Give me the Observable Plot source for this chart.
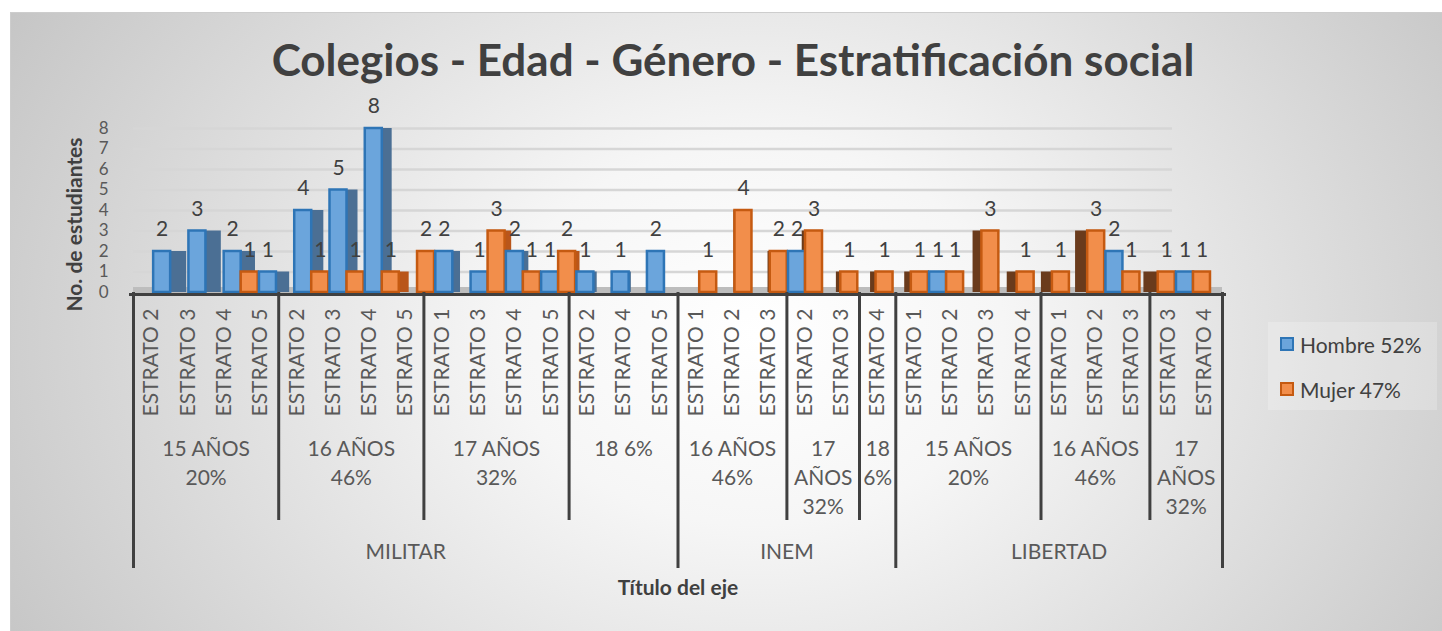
<!DOCTYPE html>
<html>
<head>
<meta charset="utf-8">
<script src="https://cdn.jsdelivr.net/npm/d3@7"></script>
<script src="https://cdn.jsdelivr.net/npm/@observablehq/plot@0.6"></script>
<style>
  body { margin: 0; background: #ffffff; }
  #wrap { position: relative; width: 1442px; height: 631px; overflow: hidden; font-family: Lato, "Open Sans", sans-serif; }
  #bg { position: absolute; left: 10px; top: 12px; right: 0; bottom: 0;
        background: radial-gradient(ellipse 62% 110% at 52% 52%, #ffffff 0%, #f6f6f6 28%, #c3c3c3 100%);
        border-top: 1px solid #cdcdcd; border-left: 1px solid #cdcdcd; }
  #chart { position: absolute; left: 0; top: 0; }
  #title { position: absolute; left: 12px; width: 1442px; top: 37px; text-align: center;
           font-weight: 700; font-size: 44px; line-height: 1; color: #404040; white-space: nowrap; }
  #legend { position: absolute; left: 1268px; top: 322px; width: 169px; height: 88px;
            background: rgba(255,255,255,0.22); box-sizing: border-box; padding-top: 7px; }
  .item { display: flex; align-items: center; height: 30px; margin-bottom: 15px; padding-left: 12px;
          font-size: 21px; color: #404040; }
  .sw { width: 10px; height: 10px; border: 2px solid; margin-right: 6px; }
</style>
</head>
<body>
<div id="wrap">
  <div id="bg"></div>
  <div id="chart"></div>
  <div id="title">Colegios - Edad - Género - Estratificación social</div>
  <div id="legend"></div>
</div>
<script>
// ---------------- data ----------------
const colegio = [
  "MILITAR","MILITAR","MILITAR","MILITAR",
  "MILITAR","MILITAR","MILITAR","MILITAR",
  "MILITAR","MILITAR","MILITAR","MILITAR",
  "MILITAR","MILITAR","MILITAR",
  "INEM","INEM","INEM",
  "INEM","INEM",
  "INEM",
  "LIBERTAD","LIBERTAD","LIBERTAD","LIBERTAD",
  "LIBERTAD","LIBERTAD","LIBERTAD",
  "LIBERTAD","LIBERTAD"
];
const edad = [
  "15 AÑOS 20%","15 AÑOS 20%","15 AÑOS 20%","15 AÑOS 20%",
  "16 AÑOS 46%","16 AÑOS 46%","16 AÑOS 46%","16 AÑOS 46%",
  "17 AÑOS 32%","17 AÑOS 32%","17 AÑOS 32%","17 AÑOS 32%",
  "18 6%","18 6%","18 6%",
  "16 AÑOS 46%","16 AÑOS 46%","16 AÑOS 46%",
  "17 AÑOS 32%","17 AÑOS 32%",
  "18 6%",
  "15 AÑOS 20%","15 AÑOS 20%","15 AÑOS 20%","15 AÑOS 20%",
  "16 AÑOS 46%","16 AÑOS 46%","16 AÑOS 46%",
  "17 AÑOS 32%","17 AÑOS 32%"
];
const estrato = [
  "ESTRATO 2","ESTRATO 3","ESTRATO 4","ESTRATO 5",
  "ESTRATO 2","ESTRATO 3","ESTRATO 4","ESTRATO 5",
  "ESTRATO 1","ESTRATO 3","ESTRATO 4","ESTRATO 5",
  "ESTRATO 2","ESTRATO 4","ESTRATO 5",
  "ESTRATO 1","ESTRATO 2","ESTRATO 3",
  "ESTRATO 2","ESTRATO 3",
  "ESTRATO 4",
  "ESTRATO 1","ESTRATO 2","ESTRATO 3","ESTRATO 4",
  "ESTRATO 1","ESTRATO 2","ESTRATO 3",
  "ESTRATO 3","ESTRATO 4"
];
const hombre = [2,3,2,1, 4,5,8,0, 2,1,2,1, 1,1,2, 0,0,0, 2,0, 0, 0,1,0,0, 0,0,2, 0,1];
const mujer  = [0,0,1,0, 1,1,1,2, 0,3,1,2, 0,0,0, 1,4,2, 3,1, 1, 1,1,3,1, 1,3,1, 1,1];
const series = ["Hombre 52%", "Mujer 47%"];
const yTicks = [0,1,2,3,4,5,6,7,8];

// ---------------- styling ----------------
const frontFill   = ["#6ba5dc", "#f28e4b"];
const frontStroke = ["#2e75b6", "#c55a11"];
const sideLeft    = ["#4b6f94", "#b9561a"];   // side faces on the left part of the view
const sideRight   = ["#2f5f8f", "#6a3b1c"];   // side faces on the right part of the view
const textColor = "#595959";

// ---------------- derived ----------------
const n = estrato.length;
const bars = [];
estrato.forEach((e, i) => {
  [hombre, mujer].forEach((vals, s) => {
    if (vals[i] > 0) bars.push({i, s, value: vals[i], serie: series[s]});
  });
});

// 3D-like perspective: pair shifts and side faces (in band units)
const BAND = (1222 - 133) / n;
const shift = i => (19 - 1.03 * i) / BAND;
const FRONT = 17 / BAND;
const side = i => Math.max(-16, Math.min(16, 1.1 * (15 - i))) / BAND;
const fx1 = d => d.i + 0.5 + shift(d.i) + (d.s === 0 ? -FRONT : 0);
const fx2 = d => fx1(d) + FRONT;
const sx1 = d => side(d.i) > 0 ? fx2(d) : fx1(d) + side(d.i);
const sx2 = d => side(d.i) > 0 ? fx2(d) + side(d.i) : fx1(d);
const sideColor = d => (side(d.i) > 0 ? sideLeft : sideRight)[d.s];

function runs(keyFn, labelFn) {
  const out = [];
  for (let i = 0; i < n; i++) {
    const k = keyFn(i);
    const last = out[out.length - 1];
    if (last && last.key === k) last.end = i + 1;
    else out.push({key: k, label: labelFn(i), start: i, end: i + 1});
  }
  out.forEach(g => { g.n = g.end - g.start; g.mid = (g.start + g.end) / 2; });
  return out;
}
const colGroups = runs(i => colegio[i], i => colegio[i]);
const ageGroups = runs(i => colegio[i] + "|" + edad[i], i => edad[i]);
const colBounds = colGroups.map(g => g.start).concat([n]);
const ageBounds = ageGroups.map(g => g.start).filter(b => !colBounds.includes(b));

const ageText = (data, lw) => Plot.text(data, {
  x: "mid", text: "label", frameAnchor: "bottom", lineAnchor: "top",
  dy: 143, lineHeight: 1.38, lineWidth: lw, fontSize: 21, fill: textColor
});

const W = 1260, H = 631;
const chart = Plot.plot({
  width: W, height: H,
  marginLeft: 133, marginRight: W - 1222, marginTop: 128, marginBottom: H - 292,
  x: {domain: [0, n], axis: null},
  y: {domain: [0, 8], axis: null},
  color: {type: "identity"},
  style: {background: "transparent", fontFamily: "Lato, 'Open Sans', sans-serif", overflow: "visible"},
  marks: [
    // back-wall gridlines
    Plot.ruleY(yTicks.filter(v => v > 0), {stroke: "#d6d6d6", strokeWidth: 2.5, insetRight: 50}),
    // floor
    Plot.ruleY([yTicks[0]], {stroke: "#bdbdbd", strokeWidth: 7, dy: -2}),
    // side faces
    Plot.rect(bars, {x1: sx1, x2: sx2, y1: 0, y2: "value", fill: sideColor}),
    // front faces
    Plot.rect(bars, {x1: fx1, x2: fx2, y1: 0, y2: "value",
      fill: d => frontFill[d.s], stroke: d => frontStroke[d.s], strokeWidth: 2.5}),
    // value labels
    Plot.text(bars, {x: d => (fx1(d) + fx2(d)) / 2, y: "value", text: d => String(d.value),
      lineAnchor: "middle", dy: -22, fontSize: 21, fill: "#404040"}),
    // x axis line
    Plot.ruleY([yTicks[0]], {stroke: "#404040", strokeWidth: 3, dy: 2, insetLeft: -4, insetRight: -4}),
    // y axis
    Plot.axisY(yTicks, {tickSize: 0, tickPadding: 25, fontSize: 17, color: textColor, label: null}),
    Plot.text([ "No. de estudiantes" ], {frameAnchor: "left", textAnchor: "middle", rotate: -90,
      dx: -58, dy: 14, fontWeight: 700, fontSize: 21, fill: "#404040"}),
    // level 1: estrato labels
    Plot.axisX(d3.range(n).map(i => i + 0.5), {tickSize: 0, tickPadding: 16, tickRotate: -90,
      tickFormat: v => estrato[Math.floor(v)], fontSize: 21, color: textColor, label: null}),
    // dividers
    Plot.axisX(ageBounds, {tickSize: 228, tickFormat: () => "", stroke: "#404040", strokeWidth: 3, label: null}),
    Plot.axisX(colBounds, {tickSize: 276, tickFormat: () => "", stroke: "#404040", strokeWidth: 3, label: null}),
    // level 2: age groups
    ageText(ageGroups.filter(g => g.n >= 3), 5),
    ageText(ageGroups.filter(g => g.n === 2), 3),
    ageText(ageGroups.filter(g => g.n === 1), 1.5),
    // level 3: colegios
    Plot.text(colGroups, {x: "mid", text: "label", frameAnchor: "bottom", lineAnchor: "middle",
      dy: 260, fontSize: 21, fill: textColor}),
    // axis title
    Plot.text(["Título del eje"], {frameAnchor: "bottom", lineAnchor: "middle", dy: 296,
      fontWeight: 700, fontSize: 21, fill: "#404040"})
  ]
});
document.getElementById("chart").appendChild(chart);

// legend
const legend = document.getElementById("legend");
series.forEach((s, k) => {
  const item = document.createElement("div");
  item.className = "item";
  const sw = document.createElement("span");
  sw.className = "sw";
  sw.style.background = frontFill[k];
  sw.style.borderColor = frontStroke[k];
  item.appendChild(sw);
  item.appendChild(document.createTextNode(s));
  legend.appendChild(item);
});
</script>
</body>
</html>
